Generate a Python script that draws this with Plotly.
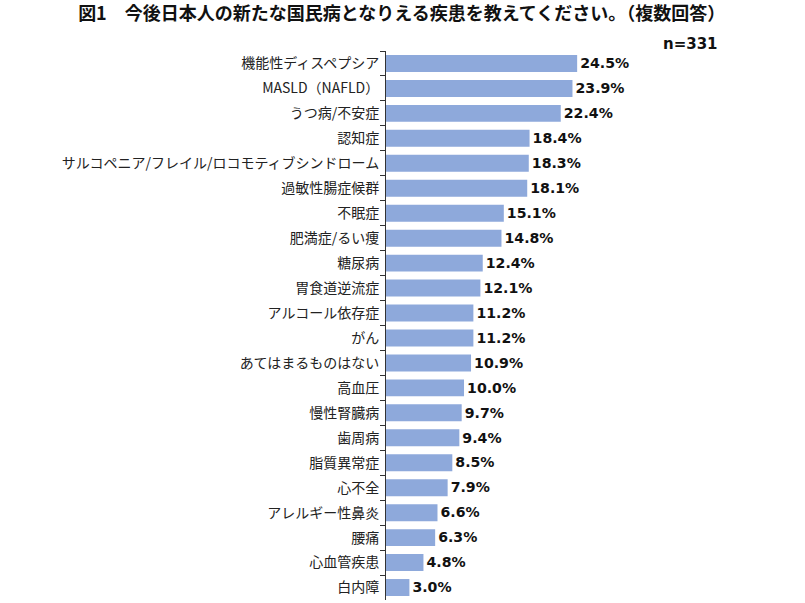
import plotly.graph_objects as go

# 今後日本人の新たな国民病となりえる疾患（複数回答, n=331）
diseases = [
    "機能性ディスペプシア",
    "MASLD（NAFLD）",
    "うつ病/不安症",
    "認知症",
    "サルコペニア/フレイル/ロコモティブシンドローム",
    "過敏性腸症候群",
    "不眠症",
    "肥満症/るい痩",
    "糖尿病",
    "胃食道逆流症",
    "アルコール依存症",
    "がん",
    "あてはまるものはない",
    "高血圧",
    "慢性腎臓病",
    "歯周病",
    "脂質異常症",
    "心不全",
    "アレルギー性鼻炎",
    "腰痛",
    "心血管疾患",
    "白内障",
]
shares = [24.5, 23.9, 22.4, 18.4, 18.3, 18.1, 15.1, 14.8, 12.4, 12.1, 11.2,
          11.2, 10.9, 10.0, 9.7, 9.4, 8.5, 7.9, 6.6, 6.3, 4.8, 3.0]

title_text = "<b>図1　今後日本人の新たな国民病となりえる疾患を教えてください。（複数回答）</b>"
n_text = "<b>n=331</b>"

jp_font = "Noto Sans CJK JP"
num_font = "DejaVu Sans"

fig = go.Figure(
    go.Bar(
        x=shares,
        y=diseases,
        orientation="h",
        marker=dict(color="#8EA9DB", line=dict(width=0)),
        width=0.68,
        text=[f"<b>{v:.1f}%</b>" for v in shares],
        textposition="outside",
        textfont=dict(family=num_font, size=15, color="#111111"),
        cliponaxis=False,
        hoverinfo="skip",
    )
)

fig.update_layout(
    width=805,
    height=603,
    paper_bgcolor="white",
    plot_bgcolor="white",
    showlegend=False,
    margin=dict(l=386, r=25, t=51, b=3, autoexpand=False),
    title=dict(
        text=title_text,
        x=0.499,
        xanchor="center",
        y=0.978,
        yanchor="middle",
        yref="container",
        font=dict(family=jp_font, size=18, color="#111111"),
    ),
    annotations=[
        dict(
            text=n_text,
            xref="paper", yref="paper",
            x=0.848, y=1.0, xanchor="right", yanchor="middle",
            yshift=7,
            showarrow=False,
            font=dict(family=num_font, size=15, color="#111111"),
        )
    ],
)

fig.update_xaxes(
    range=[0, 50.5],
    visible=False,
    showgrid=False,
    zeroline=False,
    automargin=False,
)

fig.update_yaxes(
    autorange="reversed",
    automargin=False,
    showline=True,
    linecolor="#333333",
    linewidth=1,
    ticks="outside",
    tickson="boundaries",
    ticklen=5,
    tickcolor="#333333",
    showgrid=False,
    ticklabelstandoff=3,
    tickfont=dict(family=jp_font, size=14, color="#222222"),
)

# the browser's default body margin would shift the whole figure by 8px
fig.write_html(
    "out.html",
    config={"displayModeBar": False},
    post_script="document.body.style.margin='0px';",
)
